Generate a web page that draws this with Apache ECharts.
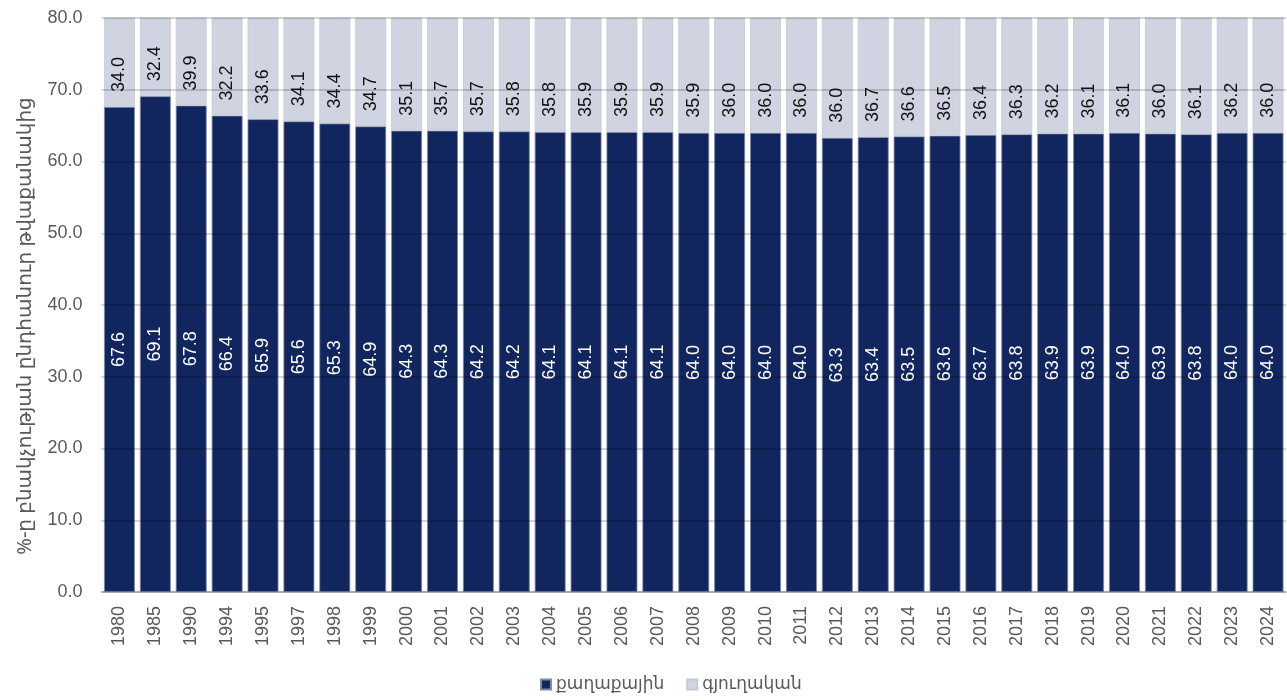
<!DOCTYPE html>
<html>
<head>
<meta charset="utf-8">
<script src="https://cdn.jsdelivr.net/npm/echarts@6/dist/echarts.min.js"></script>
<style>
html,body{margin:0;padding:0;background:#fff;}
#chart{width:1287px;height:700px;}
</style>
</head>
<body>
<div id="chart"></div>
<script>
const categories = ['1980','1985','1990','1994','1995','1997','1998','1999','2000','2001','2002','2003','2004','2005','2006','2007','2008','2009','2010','2011','2012','2013','2014','2015','2016','2017','2018','2019','2020','2021','2022','2023','2024'];
const urban = [67.6,69.1,67.8,66.4,65.9,65.6,65.3,64.9,64.3,64.3,64.2,64.2,64.1,64.1,64.1,64.1,64.0,64.0,64.0,64.0,63.3,63.4,63.5,63.6,63.7,63.8,63.9,63.9,64.0,63.9,63.8,64.0,64.0];
const rural = [34.0,32.4,39.9,32.2,33.6,34.1,34.4,34.7,35.1,35.7,35.7,35.8,35.8,35.9,35.9,35.9,35.9,36.0,36.0,36.0,36.0,36.7,36.6,36.5,36.4,36.3,36.2,36.1,36.1,36.0,36.1,36.2,36.0];
const seriesNames = ['քաղաքային','գյուղական'];
const yTitle = '%-ը բնակչության ընդհանուր թվաքանակից';

const FONT = "'Liberation Sans', Arial, sans-serif";
const AFONT = "'Noto Sans', 'DejaVu Sans', sans-serif";

const labelData = categories.map((c, i) => [i, urban[i], rural[i]]);

const chart = echarts.init(document.getElementById('chart'), null, {renderer:'canvas'});
chart.setOption({
  animation:false,
  textStyle:{fontFamily:FONT},
  grid:{left:101.5, right:1, top:18, bottom:108, containLabel:false},
  legend:{
    bottom:2, left:535,
    itemWidth:10, itemHeight:10, itemGap:22,
    icon:'rect',
    textStyle:{fontSize:17, color:'#595959', fontFamily:AFONT},
    data:seriesNames
  },
  graphic:[{
    type:'text', x:25, y:326, rotation:Math.PI/2,
    style:{text:yTitle, fontSize:20, fill:'#595959', fontFamily:AFONT, align:'center', verticalAlign:'middle'}
  }],
  xAxis:{
    type:'category', data:categories,
    axisTick:{show:false},
    axisLine:{lineStyle:{color:'#d0d0d0', width:2}},
    axisLabel:{rotate:90, fontSize:18, color:'#595959', margin:14, fontFamily:FONT}
  },
  yAxis:{
    type:'value', min:0, max:80, interval:10, z:5,
    axisLabel:{fontSize:18, color:'#595959', margin:19, fontFamily:FONT, formatter:v=>v.toFixed(1)},
    splitLine:{lineStyle:{color:'rgba(0,0,0,0.22)', width:1.5}},
    axisLine:{show:false}, axisTick:{show:false}
  },
  series:[
    {
      name:seriesNames[0], type:'bar', stack:'t', data:urban,
      barCategoryGap:'14%',
      itemStyle:{color:'#11265f', borderColor:'#7f89a8', borderWidth:0.8},
      label:{show:false}
    },
    {
      name:seriesNames[1], type:'bar', stack:'t', data:rural,
      itemStyle:{color:'#d0d4e0', borderColor:'#c4c9d8', borderWidth:0.8},
      label:{show:false}
    },
    {
      name:'labels', type:'custom', data:labelData, z:10, silent:true,
      encode:{x:0, y:1},
      renderItem:function(params, api){
        const i = api.value(0), u = api.value(1), r = api.value(2);
        const mid = api.coord([i, u/2]);
        const top = api.coord([i, u]);
        return {type:'group', children:[
          {type:'text', x:mid[0], y:mid[1], rotation:Math.PI/2,
            style:{text:u.toFixed(1), fill:'#ffffff', fontSize:18, fontFamily:FONT, align:'center', verticalAlign:'middle'}},
          {type:'text', x:top[0], y:top[1]-15, rotation:Math.PI/2,
            style:{text:r.toFixed(1), fill:'#111111', fontSize:18, fontFamily:FONT, align:'left', verticalAlign:'middle'}}
        ]};
      }
    }
  ]
});
</script>
</body>
</html>
